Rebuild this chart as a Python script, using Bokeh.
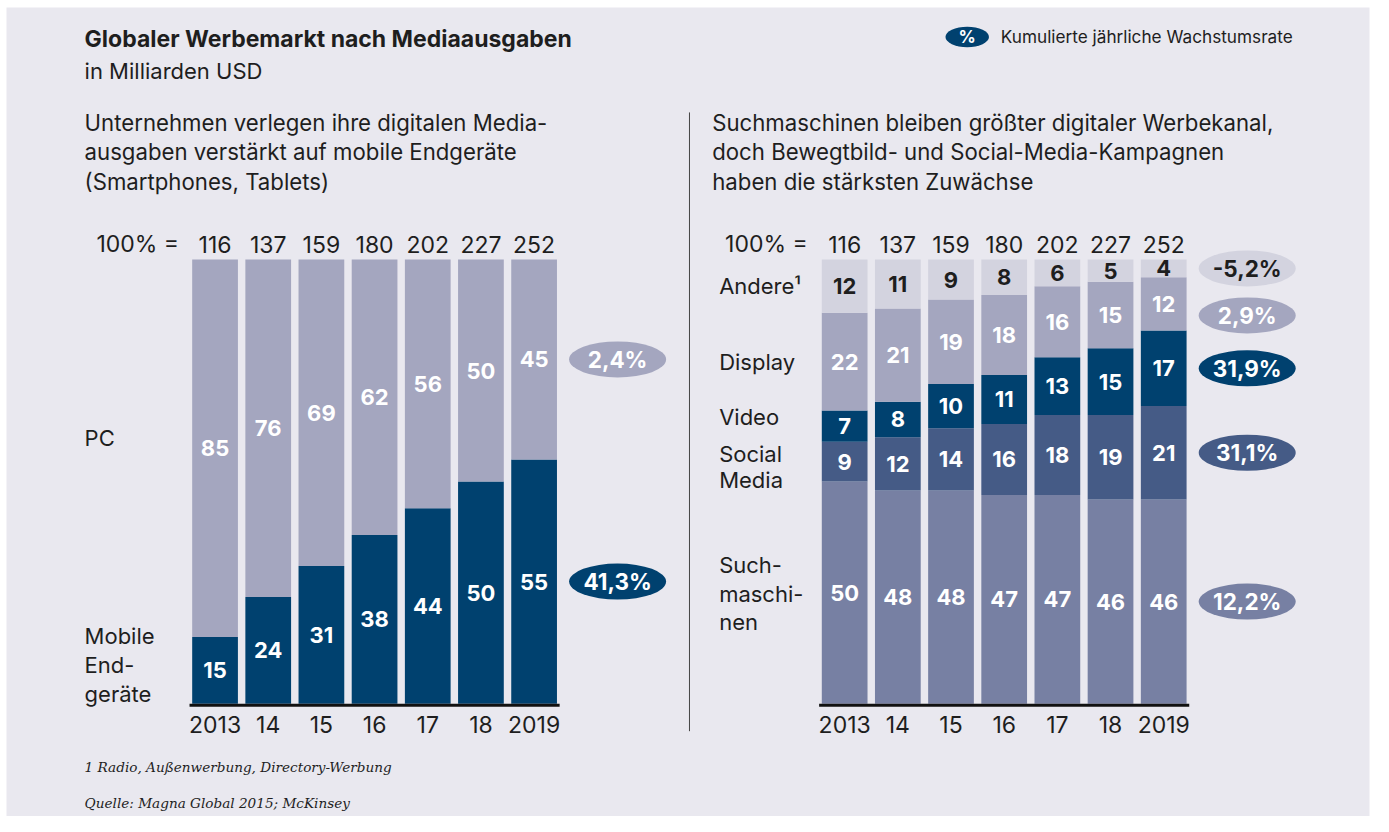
from bokeh.plotting import figure
from bokeh.models import Range1d
from bokeh.core.properties import value
from bokeh.embed import file_html
from bokeh.resources import INLINE

# ---------------- data ----------------
years = ["2013", "14", "15", "16", "17", "18", "2019"]
totals = [116, 137, 159, 180, 202, 227, 252]

# left chart (bottom -> top), shares in %
left_names = ["Mobile Endgeräte", "PC"]
mobile = [15, 24, 31, 38, 44, 50, 55]
pc = [85, 76, 69, 62, 56, 50, 45]
left_cagr = ["41,3%", "2,4%"]

# right chart (bottom -> top), shares in %
right_names = ["Suchmaschinen", "Social Media", "Video", "Display", "Andere"]
search = [50, 48, 48, 47, 47, 46, 46]
social = [9, 12, 14, 16, 18, 19, 21]
video = [7, 8, 10, 11, 13, 15, 17]
display = [22, 21, 19, 18, 16, 15, 12]
andere = [12, 11, 9, 8, 6, 5, 4]
right_cagr = ["12,2%", "31,1%", "31,9%", "2,9%", "-5,2%"]

title = "Globaler Werbemarkt nach Mediaausgaben"
unit = "in Milliarden USD"
legend_text = "Kumulierte jährliche Wachstumsrate"
left_sub = ["Unternehmen verlegen ihre digitalen Media-",
            "ausgaben verstärkt auf mobile Endgeräte",
            "(Smartphones, Tablets)"]
right_sub = ["Suchmaschinen bleiben größter digitaler Werbekanal,",
             "doch Bewegtbild- und Social-Media-Kampagnen",
             "haben die stärksten Zuwächse"]
left_cat_lines = ["PC", "Mobile", "End-", "geräte"]
right_cat_lines = ["Andere¹", "Display", "Video", "Social", "Media", "Such-", "maschi-", "nen"]
foot1 = "1 Radio, Außenwerbung, Directory-Werbung"
foot2 = "Quelle: Magna Global 2015; McKinsey"

# ---------------- style / layout ----------------
BG = "#e9e8ef"
TXT = "#1e1e1e"
NAVY = "#00416f"
LIGHT = "#a4a6bf"
PALE = "#d3d3df"
SOCIAL = "#455b86"
SEARCH = "#7780a3"
FONT = value("Inter")
SERIF = value("DejaVu Serif")

W, H = 1373, 816
# panel limits in layout units
PX0, PX1, PY0, PY1 = 6, 1385, 7, 832
BAR_TOP, BAR_BOTTOM = 264, 717
PX_PCT = (BAR_BOTTOM - BAR_TOP) / 100.0
PITCH = 53.8
L0, R0 = 217, 854
BAR_W = 0.86
ELL_X = 7.57

p = figure(width=W, height=H, output_backend="svg", toolbar_location=None,
           x_range=Range1d(PX0, PX1), y_range=Range1d(PY1, PY0),
           x_axis_type=None, y_axis_type=None,
           min_border_left=6, min_border_top=7, min_border_right=4, min_border_bottom=0)
p.grid.visible = False
p.outline_line_color = None
p.background_fill_color = BG
p.border_fill_color = "white"

p.extra_y_ranges = {"V": Range1d((BAR_BOTTOM - PY1) / PX_PCT, (BAR_BOTTOM - PY0) / PX_PCT)}
p.extra_x_ranges = {"L": Range1d((PX0 - L0) / PITCH, (PX1 - L0) / PITCH),
                    "R": Range1d((PX0 - R0) / PITCH, (PX1 - R0) / PITCH)}

idx = list(range(len(years)))


def ptext(x, y, t, size="22px", style="normal", color=TXT, align="left", font=FONT):
    p.text(x=[x], y=[y], text=[t], text_font=font, text_font_size=size, text_font_style=style,
           text_color=color, text_align=align, text_baseline="middle")


# header
ptext(85, 39.5, title, size="23px", style="bold")
ptext(85, 71.5, unit, size="22px")
p.ellipse(x=[978], y=[37], width=43.5, height=20.5, width_units="screen", height_units="screen",
          fill_color=NAVY, line_color=None)
ptext(978, 37, "%", size="17px", style="bold", color="white", align="center")
ptext(1012, 37, legend_text, size="17.2px")

for i, line in enumerate(left_sub):
    ptext(85, 124 + 30 * i, line, size="22.2px")
for i, line in enumerate(right_sub):
    ptext(720, 124 + 30 * i, line, size="22.2px")

p.segment(x0=[697], y0=[114], x1=[697], y1=[745], line_color="#444444", line_width=1)


def stacked(rng, series, colors, label_colors, cagr, row_label_x):
    bottoms = [0.0] * len(idx)
    centers_last = []
    for vals, col, lc in zip(series, colors, label_colors):
        tops = [b + v for b, v in zip(bottoms, vals)]
        p.vbar(x=idx, width=BAR_W, bottom=bottoms, top=tops, fill_color=col, line_color=None,
               x_range_name=rng, y_range_name="V")
        mids = [(b + t) / 2 for b, t in zip(bottoms, tops)]
        p.text(x=idx, y=mids, text=[str(v) for v in vals], x_range_name=rng, y_range_name="V",
               text_font=FONT, text_font_style="bold", text_font_size="22px", text_color=lc,
               text_align="center", text_baseline="middle")
        centers_last.append(mids[-1])
        bottoms = tops
    # cagr ellipses, kept apart by at least 48px
    gap = 48 / PX_PCT
    ys = []
    prev = None
    for c in reversed(centers_last):
        y = c if prev is None else min(c, prev - gap)
        ys.append(y)
        prev = y
    ys = list(reversed(ys))
    for y, col, lc, t in zip(ys, colors, label_colors, cagr):
        p.ellipse(x=[ELL_X], y=[y], width=97, height=36, width_units="screen", height_units="screen",
                  fill_color=col, line_color=None, x_range_name=rng, y_range_name="V")
        p.text(x=[ELL_X], y=[y], text=[t], x_range_name=rng, y_range_name="V",
               text_font=FONT, text_font_style="bold", text_font_size="22.5px", text_color=lc,
               text_align="center", text_baseline="middle")
    # axis line
    p.segment(x0=[-0.48], y0=[-0.35], x1=[len(idx) - 1 + 0.48], y1=[-0.35], line_color="#111111",
              line_width=3, x_range_name=rng, y_range_name="V")
    # totals and years
    p.text(x=idx, y=[248.5] * len(idx), text=[str(t) for t in totals], x_range_name=rng,
           text_font=FONT, text_font_size="23px", text_color=TXT, text_align="center",
           text_baseline="middle")
    p.text(x=idx, y=[738] * len(idx), text=years, x_range_name=rng,
           text_font=FONT, text_font_size="23px", text_color=TXT, text_align="center",
           text_baseline="middle")
    ptext(row_label_x, 248.5, "100% =", size="23px")


stacked("L", [mobile, pc], [NAVY, LIGHT], ["white", "white"], left_cagr, 97)
stacked("R", [search, social, video, display, andere], [SEARCH, SOCIAL, NAVY, LIGHT, PALE],
        ["white", "white", "white", "white", TXT], right_cagr, 733)

for t, y in zip(left_cat_lines, [446, 648, 677.5, 707]):
    ptext(85, y, t)
for t, y in zip(right_cat_lines, [290.5, 369, 425, 462, 489, 575.5, 605, 634]):
    ptext(727, y, t)

ptext(85, 781.5, foot1, size="13.6px", style="italic", font=SERIF)
ptext(85, 818.5, foot2, size="13.6px", style="italic", font=SERIF)

open("out.html", "w").write(file_html(p, INLINE))
